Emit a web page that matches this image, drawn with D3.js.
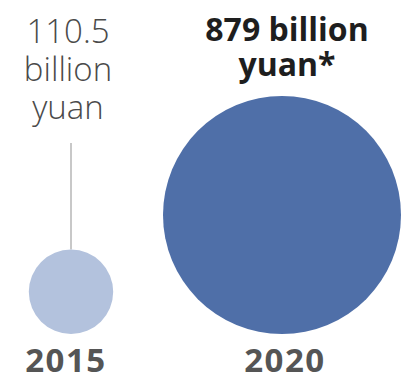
<!DOCTYPE html>
<html><head><meta charset="utf-8">
<script src="https://cdn.jsdelivr.net/npm/d3@7"></script>
<style>html,body{margin:0;padding:0;background:#fff;}svg{display:block;}</style>
</head><body>
<svg id="chart" width="401" height="376"></svg>
<script>
const years = ["2015", "2020"];
const values = [110.5, 879];
const labelLines = [["110.5", "billion", "yuan"], ["879 billion", "yuan*"]];
const colors = ["#b3c2dd", "#4f6fa8"];

const svg = d3.select("#chart");
const x = d3.scalePoint().domain(years).range([71, 282]);
const r = d3.scaleSqrt().domain([0, 879]).range([0, 119]);
const baseY = 334;

// connector line for small circle
svg.append("line")
  .attr("x1", x("2015")).attr("x2", x("2015"))
  .attr("y1", 143).attr("y2", baseY - 2 * r(values[0]))
  .attr("stroke", "#c8c8c8").attr("stroke-width", 2);

svg.selectAll("circle.b").data(years).join("circle")
  .attr("class", "b")
  .attr("cx", d => x(d))
  .attr("cy", (d, i) => baseY - r(values[i]))
  .attr("r", (d, i) => r(values[i]))
  .attr("fill", (d, i) => colors[i]);

// labels
const lab0 = svg.append("text").attr("text-anchor", "middle")
  .attr("font-family", "Open Sans").attr("font-weight", 300)
  .attr("font-size", 33).attr("fill", "#4a4a4a");
labelLines[0].forEach((t, i) => {
  lab0.append("tspan").attr("x", x("2015") - 3).attr("y", 43 + i * 38).text(t);
});
const lab1 = svg.append("text").attr("text-anchor", "middle")
  .attr("font-family", "Open Sans").attr("font-weight", 700)
  .attr("font-size", 32).attr("fill", "#1e1e1e");
labelLines[1].forEach((t, i) => {
  lab1.append("tspan").attr("x", x("2020") + 5).attr("y", 41 + i * 35).text(t);
});

svg.selectAll("text.yr").data(years).join("text")
  .attr("class", "yr")
  .attr("x", d => x(d) + (d === "2020" ? 3 : -5))
  .attr("y", 372)
  .attr("text-anchor", "middle")
  .attr("font-family", "Open Sans").attr("font-weight", 700)
  .attr("font-size", 33).attr("letter-spacing", 1.5).attr("fill", "#555")
  .text(d => d);
</script>
</body></html>
